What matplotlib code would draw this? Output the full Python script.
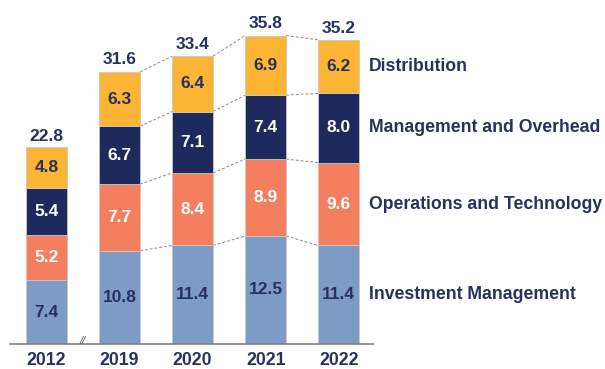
import numpy as np
import matplotlib.pyplot as plt

plt.rcParams['font.family'] = ['Liberation Sans', 'DejaVu Sans']

# cost breakdown by year
years = ['2012', '2019', '2020', '2021', '2022']
investment = [7.4, 10.8, 11.4, 12.5, 11.4]
operations = [5.2, 7.7, 8.4, 8.9, 9.6]
management = [5.4, 6.7, 7.1, 7.4, 8.0]
distribution = [4.8, 6.3, 6.4, 6.9, 6.2]
totals = [22.8, 31.6, 33.4, 35.8, 35.2]

series = [investment, operations, management, distribution]
names = ['Investment Management', 'Operations and Technology',
         'Management and Overhead', 'Distribution']
colors = ['#7e9bc6', '#f47f5f', '#1e2a5e', '#fbb433']
text_colors = ['#27315e', 'white', 'white', '#27315e']
navy = '#27315e'

fig = plt.figure(figsize=(6.05, 3.69), dpi=100)
ax = fig.add_axes([10 / 605, 25 / 369, 363 / 605, 337 / 369])

x = np.arange(len(years))
width = 0.56
bottom = np.zeros(len(years))
edges = []
for vals, col, tcol in zip(series, colors, text_colors):
    vals = np.array(vals)
    ax.bar(x, vals, width, bottom=bottom, color=col, edgecolor='#c8c8c8',
           linewidth=0.6, zorder=2)
    for xi, b, v in zip(x, bottom, vals):
        ax.text(xi, b + v / 2, f'{v:.1f}', ha='center', va='center',
                color=tcol, fontsize=12.5, fontweight='bold', zorder=3)
    bottom = bottom + vals
    edges.append(bottom.copy())

# dashed connectors between the recent years
for top in edges:
    for i in range(1, len(years) - 1):
        ax.plot([x[i] + width / 2, x[i + 1] - width / 2], [top[i], top[i + 1]],
                ls=(0, (3, 2)), color='#8a8a8a', lw=0.7, zorder=1)

for xi, t in zip(x, totals):
    ax.text(xi, t + 0.4, f'{t:.1f}', ha='center', va='bottom', color=navy,
            fontsize=12.5, fontweight='bold')

# series names beside the last bar
last = len(years) - 1
b = 0
for vals, name in zip(series, names):
    ax.text(x[last] + width / 2 + 0.14, b + vals[last] / 2, name, ha='left',
            va='center', color=navy, fontsize=12.7, fontweight='bold',
            clip_on=False)
    b += vals[last]

# axis break marker
ax.text(0.5, 0.3, '//', ha='center', va='center', color='#555555', fontsize=8,
        fontstyle='italic')

ax.set_xlim(-0.5, 4.47)
ax.set_ylim(0, 39)
ax.set_xticks(x)
ax.set_xticklabels(years, fontsize=12.7, fontweight='bold', color=navy)
ax.tick_params(axis='x', length=0, pad=6)
ax.set_yticks([])
for side in ['top', 'right', 'left']:
    ax.spines[side].set_visible(False)
ax.spines['bottom'].set_color('#808080')
ax.spines['bottom'].set_linewidth(1.2)

fig.savefig('out.png', dpi=100)
